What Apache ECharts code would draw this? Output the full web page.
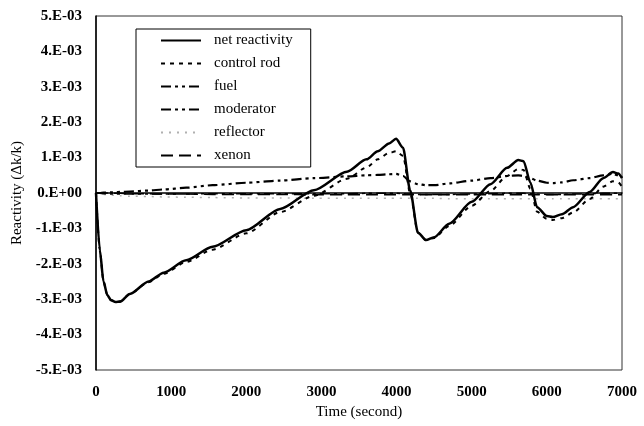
<!DOCTYPE html>
<html>
<head>
<meta charset="utf-8">
<script src="https://cdn.jsdelivr.net/npm/echarts@6/dist/echarts.min.js"></script>
<style>html,body{margin:0;padding:0;background:#fff}#c{width:644px;height:426px}</style>
</head>
<body>
<div id="c"></div>
<script>
// time in seconds; reactivity values in units of 1E-3 (Δk/k)
const time = [0, 50, 100, 150, 200, 260, 320, 450, 700, 900, 1200, 1550, 2000, 2450, 2900, 3340, 3600, 3750, 3900, 3993, 4086, 4180, 4285, 4392, 4500, 4700, 5000, 5250, 5470, 5620, 5690, 5780, 5870, 6000, 6080, 6200, 6350, 6570, 6750, 6880, 6950, 7000];
const netReactivity = [0, -1.6, -2.5, -2.88, -3.03, -3.08, -3.07, -2.85, -2.5, -2.25, -1.9, -1.52, -1.05, -0.45, 0.08, 0.6, 0.95, 1.18, 1.4, 1.53, 1.28, 0.08, -1.12, -1.33, -1.25, -0.87, -0.25, 0.25, 0.71, 0.93, 0.9, 0.3, -0.4, -0.65, -0.68, -0.6, -0.4, 0.03, 0.42, 0.59, 0.55, 0.42];
const controlRod = [0, -1.6, -2.5, -2.88, -3.02, -3.07, -3.06, -2.85, -2.52, -2.28, -1.95, -1.6, -1.14, -0.54, -0.08, 0.4, 0.72, 0.95, 1.13, 1.18, 1.05, 0.0, -1.12, -1.33, -1.27, -0.93, -0.36, 0.06, 0.48, 0.68, 0.65, 0.12, -0.53, -0.73, -0.76, -0.71, -0.55, -0.17, 0.18, 0.33, 0.3, 0.18];
const fuel = [0, -0.01, -0.02, -0.02, -0.03, -0.03, -0.03, -0.03, -0.03, -0.03, -0.03, -0.02, -0.02, -0.02, -0.02, -0.02, -0.01, -0.01, -0.01, -0.01, -0.02, -0.03, -0.04, -0.04, -0.04, -0.04, -0.03, -0.02, -0.01, -0.01, -0.01, -0.02, -0.03, -0.04, -0.04, -0.04, -0.03, -0.02, -0.01, -0.01, -0.01, -0.02];
const moderator = [0, 0, 0.01, 0.01, 0.02, 0.02, 0.03, 0.04, 0.07, 0.1, 0.15, 0.22, 0.29, 0.35, 0.42, 0.47, 0.5, 0.51, 0.53, 0.54, 0.48, 0.33, 0.25, 0.22, 0.22, 0.27, 0.35, 0.42, 0.48, 0.5, 0.48, 0.42, 0.35, 0.29, 0.28, 0.3, 0.36, 0.42, 0.5, 0.54, 0.5, 0.45];
const reflector = [0, -0.02, -0.04, -0.05, -0.06, -0.07, -0.08, -0.09, -0.1, -0.11, -0.12, -0.13, -0.14, -0.14, -0.15, -0.15, -0.15, -0.15, -0.15, -0.15, -0.15, -0.15, -0.15, -0.15, -0.15, -0.16, -0.16, -0.16, -0.16, -0.16, -0.16, -0.16, -0.16, -0.16, -0.16, -0.16, -0.16, -0.16, -0.16, -0.16, -0.16, -0.16];
const xenon = [0, 0, 0, 0, -0.01, -0.01, -0.01, -0.02, -0.02, -0.03, -0.03, -0.04, -0.04, -0.04, -0.05, -0.05, -0.05, -0.05, -0.05, -0.05, -0.05, -0.05, -0.05, -0.05, -0.05, -0.05, -0.05, -0.05, -0.05, -0.05, -0.05, -0.05, -0.05, -0.05, -0.05, -0.05, -0.05, -0.05, -0.05, -0.05, -0.05, -0.05];
const seriesNames = ['net reactivity', 'control rod', 'fuel', 'moderator', 'reflector', 'xenon'];
const yTickLabels = ['-5.E-03', '-4.E-03', '-3.E-03', '-2.E-03', '-1.E-03', '0.E+00', '1.E-03', '2.E-03', '3.E-03', '4.E-03', '5.E-03'];
const xTickLabels = ['0', '1000', '2000', '3000', '4000', '5000', '6000', '7000'];

const FONT = '"Liberation Serif", "DejaVu Serif", serif';
const pts = arr => time.map((t, i) => [t, arr[i]]);

const styles = [
  {color: '#000', width: 2.5, type: 'solid'},
  {color: '#000', width: 2, type: [4, 5]},
  {color: '#000', width: 1.5, type: [10, 4, 3, 4, 3, 4]},
  {color: '#000', width: 2.2, type: [10, 4, 3, 4, 3, 4]},
  {color: '#b0b0b0', width: 1.5, type: [2, 6]},
  {color: '#000', width: 1.5, type: [12, 6]}
];
const dataArrays = [netReactivity, controlRod, fuel, moderator, reflector, xenon];
const zOrder = [10, 9, 5, 6, 3, 4];

const chart = echarts.init(document.getElementById('c'), null, {renderer: 'canvas'});
chart.setOption({
  animation: false,
  backgroundColor: '#fff',
  grid: {left: 96, top: 16, right: 22, bottom: 56, show: true, borderColor: '#333', borderWidth: 1},
  legend: {
    data: seriesNames,
    orient: 'vertical',
    left: 136, top: 29,
    itemWidth: 40, itemHeight: 14, itemGap: 8,
    padding: [4, 18, 4, 24],
    borderColor: '#000', borderWidth: 1,
    backgroundColor: '#fff',
    itemStyle: {opacity: 0},
    textStyle: {fontFamily: FONT, fontSize: 15, color: '#000', padding: [0, 0, 0, 8]}
  },
  xAxis: {
    type: 'value', min: 0, max: 7000, interval: 1000,
    name: 'Time (second)', nameLocation: 'middle', nameGap: 33,
    nameTextStyle: {fontFamily: FONT, fontSize: 15, color: '#000'},
    axisLine: {lineStyle: {color: '#000', width: 1.5}},
    axisTick: {show: false},
    splitLine: {show: false},
    axisLabel: {fontFamily: FONT, fontSize: 15, fontWeight: 'bold', color: '#000', margin: 15,
      formatter: v => xTickLabels[Math.round(v / 1000)]}
  },
  yAxis: {
    type: 'value', min: -5, max: 5, interval: 1,
    name: 'Reactivity (Δk/k)', nameLocation: 'middle', nameGap: 67, nameRotate: 90,
    nameTextStyle: {fontFamily: FONT, fontSize: 15, color: '#000'},
    axisLine: {show: true, lineStyle: {color: '#000', width: 1.5}},
    axisTick: {show: false},
    splitLine: {show: false},
    axisLabel: {fontFamily: FONT, fontSize: 15, fontWeight: 'bold', color: '#000', margin: 14,
      formatter: v => yTickLabels[Math.round(v) + 5]}
  },
  series: seriesNames.map((name, i) => ({
    name, type: 'line', data: pts(dataArrays[i]),
    symbol: 'none', showSymbol: false,
    smooth: 0.25, smoothMonotone: 'x',
    z: zOrder[i],
    itemStyle: {color: styles[i].color},
    lineStyle: styles[i]
  }))
});
</script>
</body>
</html>
